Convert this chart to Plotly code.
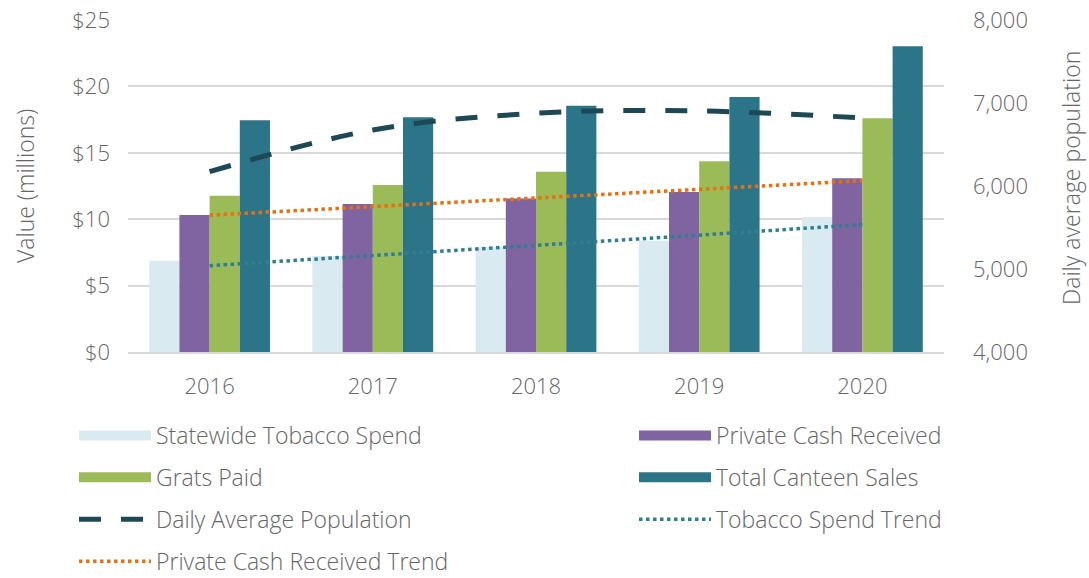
import plotly.graph_objects as go

years = ["2016", "2017", "2018", "2019", "2020"]
tobacco_spend = [6.87, 7.23, 7.90, 8.38, 10.17]
private_cash = [10.32, 11.14, 11.55, 12.05, 13.08]
grats_paid = [11.77, 12.58, 13.58, 14.36, 17.60]
canteen_sales = [17.45, 17.67, 18.55, 19.20, 23.02]
daily_pop = [6172, 6675, 6876, 6904, 6819]
tobacco_trend = [6.50, 7.25, 8.00, 8.80, 9.60]
cash_trend = [10.30, 10.95, 11.60, 12.25, 12.90]

FONT = "Open Sans"
GRAY = "#666666"
L, R, T, B = 128, 145, 20, 226
PW, PH = 1089 - L - R, 578 - T - B

fig = go.Figure()
bar_specs = [
    ("Statewide Tobacco Spend", tobacco_spend, "#D9EBF1", "legend", "g1"),
    ("Private Cash Received", private_cash, "#8064A2", "legend2", "g2"),
    ("Grats Paid", grats_paid, "#9BBB59", "legend", "g3"),
    ("Total Canteen Sales", canteen_sales, "#2C7589", "legend2", "g4"),
]
for name, vals, col, lg, grp in bar_specs:
    fig.add_trace(go.Bar(x=years, y=vals, name=name, marker_color=col,
                         marker_line_width=0, showlegend=False, legendgroup=grp))
    # legend proxy with a wide rectangular swatch
    fig.add_trace(go.Scatter(x=[None], y=[None], name=name, mode="lines",
                             line=dict(color=col, width=16), legend=lg, legendgroup=grp))

fig.add_trace(go.Scatter(x=years, y=daily_pop, name="Daily Average Population",
                         mode="lines", yaxis="y2", line_shape="spline",
                         line=dict(color="#1D4957", width=5, dash="22px,20px"),
                         legend="legend", legendgroup="g5"))
fig.add_trace(go.Scatter(x=years, y=tobacco_trend, name="Tobacco Spend Trend",
                         mode="lines", line=dict(color="#2F7E93", width=3.5, dash="dot"),
                         legend="legend2", legendgroup="g6"))
fig.add_trace(go.Scatter(x=years, y=cash_trend, name="Private Cash Received Trend",
                         mode="lines", line=dict(color="#E8700E", width=3.5, dash="dot"),
                         legend="legend", legendgroup="g7"))

leg_common = dict(orientation="v", font=dict(family=FONT, size=23, color=GRAY, weight=300),
                  tracegroupgap=9, bgcolor="rgba(0,0,0,0)", xanchor="left", yanchor="top",
                  traceorder="grouped", itemwidth=72, xref="container", yref="container")

fig.update_layout(
    width=1089, height=578,
    margin=dict(l=L, r=R, t=T, b=B, autoexpand=False),
    plot_bgcolor="white", paper_bgcolor="white",
    font=dict(family=FONT, color=GRAY, weight=300),
    barmode="group", bargap=0.26, bargroupgap=0,
    xaxis=dict(showgrid=False, showline=True, linecolor="#d9d9d9", linewidth=2,
               tickfont=dict(size=22, color=GRAY), ticks="", ticklabelstandoff=14),
    yaxis=dict(range=[0, 25], dtick=5, tickprefix="$", showgrid=True, gridcolor="#d9d9d9",
               gridwidth=1.5, zeroline=False, tickfont=dict(size=22, color=GRAY),
               ticklabelstandoff=17),
    yaxis2=dict(range=[4000, 8000], dtick=1000, tickformat=",", overlaying="y", side="right",
                showgrid=False, zeroline=False, tickfont=dict(size=22, color=GRAY),
                ticklabelstandoff=28),
    legend=dict(x=74 / 1089, y=1 - 414 / 578, **leg_common),
    legend2=dict(x=634 / 1089, y=1 - 414 / 578, **leg_common),
    annotations=[
        dict(text="Value (millions)", textangle=-90, xref="paper", yref="paper",
             x=(25 - L) / PW, y=0.5, xanchor="center", yanchor="middle", showarrow=False,
             font=dict(family=FONT, size=23, color=GRAY, weight=300)),
        dict(text="Daily average population", textangle=-90, xref="paper", yref="paper",
             x=(1071 - L) / PW, y=(578 - B - 178) / PH, xanchor="center", yanchor="middle",
             showarrow=False, font=dict(family=FONT, size=23, color=GRAY, weight=300)),
    ],
)

fig.write_html("out.html")
